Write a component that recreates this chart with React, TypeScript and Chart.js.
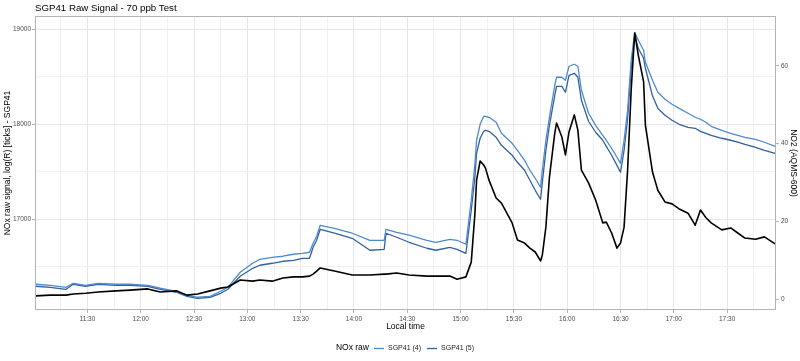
import React, { useEffect, useRef } from "react";
import { Chart, registerables } from "chart.js";

Chart.register(...registerables);

// Local time (HH:MM) of each sample
const times = [
  "11:01", "11:09", "11:18", "11:22", "11:29", "11:36", "11:46", "11:54", "12:04", "12:11",
  "12:20", "12:26", "12:32", "12:39", "12:45", "12:49", "12:56", "13:03", "13:07", "13:14",
  "13:20", "13:26", "13:31", "13:35", "13:37", "13:39", "13:41", "13:49", "13:59", "14:09",
  "14:17", "14:18", "14:24", "14:31", "14:41", "14:46", "14:54", "14:58", "15:03", "15:06",
  "15:08", "15:09", "15:11", "15:13", "15:14", "15:16", "15:20", "15:23", "15:29", "15:32",
  "15:36", "15:39", "15:42", "15:45", "15:46", "15:48", "15:50", "15:53", "15:54", "15:57",
  "15:59", "16:01", "16:04", "16:06", "16:08", "16:12", "16:16", "16:20", "16:22", "16:25",
  "16:28", "16:30", "16:32", "16:34", "16:36", "16:38", "16:40", "16:43", "16:44", "16:48",
  "16:51", "16:55", "16:59", "17:03", "17:08", "17:12", "17:15", "17:18", "17:21", "17:27",
  "17:32", "17:36", "17:40", "17:46", "17:51", "17:57",
];

// NOx raw signal, SGP41 (4)
const sgp41_4 = [
  16316, 16305, 16284, 16326, 16305, 16326, 16316, 16316, 16305, 16274,
  16242, 16200, 16179, 16189, 16242, 16284, 16442, 16537, 16579, 16600,
  16611, 16632, 16642, 16653, 16747, 16821, 16937, 16905, 16853, 16779,
  16779, 16895, 16863, 16832, 16779, 16758, 16789, 16779, 16737, 17200,
  17568, 17832, 18000, 18084, 18084, 18074, 18021, 17905, 17800, 17726,
  17621, 17516, 17432, 17337, 17516, 17832, 18074, 18411, 18495, 18495,
  18463, 18611, 18632, 18611, 18358, 18116, 17989, 17884, 17832, 17747,
  17653, 17589, 17832, 18147, 18674, 18968, 18884, 18779, 18653, 18463,
  18337, 18263, 18211, 18168, 18116, 18074, 18053, 18021, 17979, 17937,
  17905, 17884, 17863, 17842, 17811, 17768,
];

// NOx raw signal, SGP41 (5)
const sgp41_5 = [
  16295, 16284, 16263, 16316, 16295, 16316, 16305, 16305, 16295, 16263,
  16232, 16189, 16168, 16179, 16221, 16263, 16400, 16484, 16516, 16537,
  16558, 16568, 16589, 16589, 16705, 16779, 16895, 16853, 16800, 16674,
  16684, 16853, 16811, 16758, 16695, 16674, 16705, 16684, 16642, 17095,
  17432, 17695, 17853, 17926, 17937, 17926, 17863, 17779, 17674, 17600,
  17516, 17411, 17305, 17211, 17389, 17726, 17989, 18305, 18400, 18400,
  18337, 18516, 18537, 18495, 18253, 18032, 17916, 17832, 17768, 17674,
  17568, 17495, 17726, 18063, 18590, 18937, 18800, 18695, 18590, 18300,
  18168, 18095, 18042, 18000, 17968, 17958, 17926, 17905, 17884, 17853,
  17832, 17811, 17789, 17758, 17726, 17695,
];

// NO2 (AQMS-600), right axis
const no2 = [
  0.8, 1.0, 1.0, 1.3, 1.5, 1.8, 2.1, 2.3, 2.6, 1.8,
  2.1, 1.0, 1.3, 2.1, 2.8, 3.1, 4.9, 4.6, 4.9, 4.6,
  5.4, 5.7, 5.7, 5.9, 6.4, 7.2, 8.0, 7.2, 6.2, 6.2,
  6.4, 6.4, 6.7, 6.2, 5.9, 5.9, 5.9, 5.1, 5.7, 9.5,
  21.6, 30.6, 35.5, 34.5, 33.7, 30.6, 26.0, 24.7, 19.6, 15.2,
  14.4, 13.1, 12.1, 9.8, 11.3, 18.5, 31.4, 42.7, 45.3, 41.7,
  37.1, 43.0, 47.4, 43.5, 33.2, 29.9, 25.5, 19.6, 19.8, 17.0,
  13.1, 14.4, 18.5, 33.2, 53.8, 68.5, 62.8, 55.9, 44.8, 32.7,
  28.0, 25.0, 24.5, 23.2, 22.1, 19.0, 22.9, 21.0, 19.6, 17.8,
  18.3, 17.0, 15.7, 15.4, 16.0, 14.2,
];

const leftTicks = [16500, 17000, 17500, 18000, 18500, 19000];
const rightTicks = [0, 20, 40, 60];
const xTickTimes = [
  "11:15", "11:30", "11:45", "12:00", "12:15", "12:30", "12:45", "13:00", "13:15", "13:30",
  "13:45", "14:00", "14:15", "14:30", "14:45", "15:00", "15:15", "15:30", "15:45", "16:00",
  "16:15", "16:30", "16:45", "17:00", "17:15", "17:30", "17:45",
];

const FONT = "'Liberation Sans', Arial, Helvetica, sans-serif";
const COLOR_4 = "#4f8ace";
const COLOR_5 = "#33609f";

const toMin = (s: string) => {
  const [h, m] = s.split(":").map(Number);
  return h * 60 + m;
};
const fmtTime = (v: number) => {
  const h = Math.floor(v / 60);
  const m = Math.round(v - h * 60);
  return `${h}:${String(m).padStart(2, "0")}`;
};

const decorPlugin = {
  id: "decor",
  afterDatasetsDraw(chart: any) {
    const { ctx, chartArea: a } = chart;
    ctx.save();
    ctx.strokeStyle = "#b3b3b3";
    ctx.lineWidth = 1;
    ctx.strokeRect(a.left + 0.5, a.top + 0.5, a.right - a.left - 1, a.bottom - a.top - 1);
    ctx.restore();
  },
  afterDraw(chart: any) {
    const { ctx, chartArea: a } = chart;
    const cy = (a.top + a.bottom) / 2;
    ctx.save();
    ctx.fillStyle = "#000";
    ctx.textBaseline = "middle";

    ctx.font = `9.7px ${FONT}`;
    ctx.textAlign = "left";
    ctx.fillText("SGP41 Raw Signal - 70 ppb Test", a.left, 8);

    ctx.font = `8.5px ${FONT}`;
    ctx.textAlign = "center";
    ctx.save();
    ctx.translate(8, cy);
    ctx.rotate(-Math.PI / 2);
    ctx.fillText("NOx raw signal, log(R) [ticks] - SGP41", 0, 0);
    ctx.restore();

    ctx.save();
    ctx.translate(793, cy);
    ctx.rotate(Math.PI / 2);
    ctx.fillText("NO2 (AQMS-600)", 0, 0);
    ctx.restore();

    ctx.fillText("Local time", (a.left + a.right) / 2, 327);

    // legend
    const ly = 348;
    ctx.font = `8.5px ${FONT}`;
    const tTitle = "NOx raw";
    const wTitle = ctx.measureText(tTitle).width;
    ctx.font = `7px ${FONT}`;
    const l1 = "SGP41 (4)";
    const l2 = "SGP41 (5)";
    const w1 = ctx.measureText(l1).width;
    const w2 = ctx.measureText(l2).width;
    const seg = 10;
    const total = wTitle + 5 + seg + 4 + w1 + 6 + seg + 4 + w2;
    let x = 405 - total / 2;
    ctx.textAlign = "left";
    ctx.font = `8.5px ${FONT}`;
    ctx.fillText(tTitle, x, ly);
    x += wTitle + 5;
    ctx.lineWidth = 1.3;
    ctx.strokeStyle = COLOR_4;
    ctx.beginPath();
    ctx.moveTo(x, ly + 0.5);
    ctx.lineTo(x + seg, ly + 0.5);
    ctx.stroke();
    x += seg + 4;
    ctx.font = `7px ${FONT}`;
    ctx.fillStyle = "#1a1a1a";
    ctx.fillText(l1, x, ly);
    x += w1 + 6;
    ctx.strokeStyle = COLOR_5;
    ctx.beginPath();
    ctx.moveTo(x, ly + 0.5);
    ctx.lineTo(x + seg, ly + 0.5);
    ctx.stroke();
    x += seg + 4;
    ctx.fillText(l2, x, ly);
    ctx.restore();
  },
};

export default function App() {
  const ref = useRef<HTMLCanvasElement | null>(null);

  useEffect(() => {
    if (!ref.current) return;
    const xs = times.map(toMin);
    const mk = (vals: number[]) => vals.map((v, i) => ({ x: xs[i], y: v }));
    const tickFont = { family: FONT, size: 6.5 };

    const chart = new Chart(ref.current, {
      type: "line",
      data: {
        datasets: [
          {
            label: "NO2",
            data: mk(no2),
            yAxisID: "y2",
            borderColor: "#000000",
            borderWidth: 1.6,
            pointRadius: 0,
            tension: 0,
            borderJoinStyle: "round",
          },
          {
            label: "SGP41 (4)",
            data: mk(sgp41_4),
            yAxisID: "y",
            borderColor: COLOR_4,
            borderWidth: 1.3,
            pointRadius: 0,
            tension: 0,
            borderJoinStyle: "round",
          },
          {
            label: "SGP41 (5)",
            data: mk(sgp41_5),
            yAxisID: "y",
            borderColor: COLOR_5,
            borderWidth: 1.3,
            pointRadius: 0,
            tension: 0,
            borderJoinStyle: "round",
          },
        ],
      },
      options: {
        responsive: false,
        animation: false,
        devicePixelRatio: 1,
        layout: { padding: { top: 16, left: 0, right: 0, bottom: 0 } },
        plugins: {
          legend: { display: false },
          title: { display: false },
          tooltip: { enabled: false },
        },
        scales: {
          x: {
            type: "linear",
            min: 660.5,
            max: 1077.5,
            afterBuildTicks: (s: any) => {
              s.ticks = xTickTimes.map((t) => ({ value: toMin(t) }));
            },
            afterFit: (s: any) => {
              s.height = 51;
            },
            border: { display: false },
            grid: {
              color: (c: any) => (c.tick && c.tick.value % 30 === 0 ? "#e6e6e6" : "#f1f1f1"),
              tickColor: (c: any) => (c.tick && c.tick.value % 30 === 0 ? "#b3b3b3" : "rgba(0,0,0,0)"),
              tickLength: 3,
              lineWidth: 1,
            },
            ticks: {
              autoSkip: false,
              maxRotation: 0,
              padding: 2,
              color: "#4d4d4d",
              font: tickFont,
              callback: (v: any) => (Number(v) % 30 === 0 ? fmtTime(Number(v)) : ""),
            },
          },
          y: {
            type: "linear",
            position: "left",
            min: 16045,
            max: 19140,
            afterBuildTicks: (s: any) => {
              s.ticks = leftTicks.map((v) => ({ value: v }));
            },
            afterFit: (s: any) => {
              s.width = 35;
            },
            border: { display: false },
            grid: {
              color: (c: any) => (c.tick && c.tick.value % 1000 === 0 ? "#e6e6e6" : "#f1f1f1"),
              tickColor: (c: any) => (c.tick && c.tick.value % 1000 === 0 ? "#b3b3b3" : "rgba(0,0,0,0)"),
              tickLength: 3,
              lineWidth: 1,
            },
            ticks: {
              autoSkip: false,
              padding: 1,
              color: "#4d4d4d",
              font: tickFont,
              callback: (v: any) => (Number(v) % 1000 === 0 ? String(v) : ""),
            },
          },
          y2: {
            type: "linear",
            position: "right",
            min: -2.83,
            max: 72.87,
            afterBuildTicks: (s: any) => {
              s.ticks = rightTicks.map((v) => ({ value: v }));
            },
            afterFit: (s: any) => {
              s.width = 24;
            },
            border: { display: false },
            grid: {
              drawOnChartArea: false,
              tickColor: "#b3b3b3",
              tickLength: 3,
            },
            ticks: {
              autoSkip: false,
              padding: 2,
              color: "#4d4d4d",
              font: tickFont,
              callback: (v: any) => String(v),
            },
          },
        },
      },
      plugins: [decorPlugin],
    } as any);

    return () => chart.destroy();
  }, []);

  return (
    <div style={{ position: "absolute", left: 0, top: 0, width: 800, height: 361, background: "#fff" }}>
      <canvas ref={ref} width={800} height={361} style={{ display: "block" }} />
    </div>
  );
}
